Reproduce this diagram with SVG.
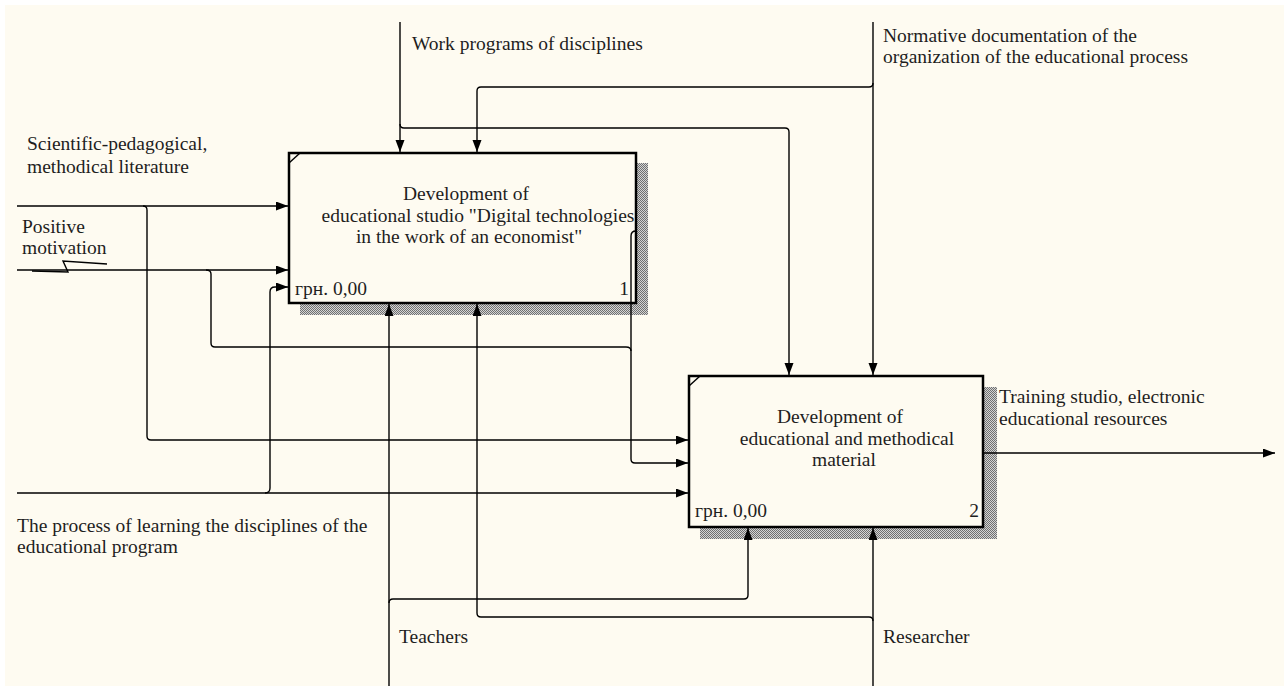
<svg xmlns="http://www.w3.org/2000/svg" width="1284" height="686" viewBox="0 0 1284 686">
  <style>
    .t { font-family: "Liberation Serif", "Times New Roman", serif; font-size: 19.5px; fill: #1e1e1e; }
    .m { text-anchor: middle; }
    .e { text-anchor: end; }
    .box { fill: #fefbf1; stroke: #000; stroke-width: 2.5; }
    .c { fill: none; stroke: #000; stroke-width: 1.4; }
    .ca { fill: none; stroke: #000; stroke-width: 1.4; marker-end: url(#ah); }
    .shadow { fill: url(#hatch); }
  </style>
  <defs>
    <marker id="ah" markerUnits="userSpaceOnUse" markerWidth="13" markerHeight="10" refX="12" refY="4.5" orient="auto">
      <path d="M0,0 L12,4.5 L0,9 z" fill="#000"/>
    </marker>
    <pattern id="hatch" patternUnits="userSpaceOnUse" width="2" height="2">
      <rect width="2" height="2" fill="#d4d4d4"/>
      <rect width="1" height="1" fill="#707070"/>
      <rect x="1" y="1" width="1" height="1" fill="#707070"/>
    </pattern>
  </defs>

  <rect width="1284" height="686" fill="#ffffff"/>
  <rect x="5" y="5" width="1279" height="681" fill="#fefbf1"/>

  <g id="node1">
    <rect class="shadow" x="300" y="163" width="348" height="152"/>
    <rect class="box" x="289" y="153" width="347" height="150"/>
    <path d="M289,163 L300,153" class="c"/>
    <text class="t m" x="466" y="200">Development of</text>
    <text class="t m" x="478" y="222">educational studio "Digital technologies</text>
    <text class="t m" x="469" y="243">in the work of an economist"</text>
    <text class="t" x="295" y="295">грн. 0,00</text>
    <text class="t e" x="629" y="295">1</text>
  </g>

  <g id="node2">
    <rect class="shadow" x="700" y="387" width="297" height="152"/>
    <rect class="box" x="689" y="376" width="294" height="151"/>
    <path d="M689,386 L700,376" class="c"/>
    <text class="t m" x="840" y="423">Development of</text>
    <text class="t m" x="847" y="445">educational and methodical</text>
    <text class="t m" x="844" y="466">material</text>
    <text class="t" x="695" y="517">грн. 0,00</text>
    <text class="t e" x="979" y="517">2</text>
  </g>

  <g id="connectors">
    <!-- Scientific-pedagogical literature -->
    <path class="ca" d="M17,206 H288"/>
    <path class="ca" d="M143,206 Q147,206 147,210 V436 Q147,440 151,440 H688"/>
    <!-- Positive motivation -->
    <path class="ca" d="M17,270 H288"/>
    <path class="c" d="M206,270 Q211,270 211,274 V343 Q211,347 215,347 H626 Q631,347 631,351"/>
    <polyline class="c" points="107,264 63,261 68,272 32,271"/>
    <!-- Output of box 1 to box 2 -->
    <path class="ca" d="M636,231 Q631,231 631,236 V459 Q631,463 635,463 H688"/>
    <!-- Process of learning -->
    <path class="ca" d="M17,493 H688"/>
    <path class="ca" d="M265,493 Q270,493 270,488 V292 Q270,287 275,287 H288"/>
    <!-- Work programs -->
    <path class="ca" d="M400,22 V152"/>
    <path class="ca" d="M400,124 Q400,128 404,128 H785 Q789,128 789,132 V375"/>
    <!-- Normative documentation -->
    <path class="ca" d="M873,22 V375"/>
    <path class="ca" d="M873,83 Q873,87 869,87 H481 Q477,87 477,91 V152"/>
    <!-- Teachers -->
    <path class="ca" d="M389,686 V304"/>
    <path class="ca" d="M389,603 Q389,599 393,599 H744 Q748,599 748,595 V528"/>
    <!-- Researcher -->
    <path class="ca" d="M873,686 V528"/>
    <path class="ca" d="M873,621 Q873,617 869,617 H481 Q477,617 477,613 V304"/>
    <!-- Output -->
    <path class="ca" d="M983,453 H1275"/>
  </g>

  <g id="labels">
    <text class="t" x="412" y="50">Work programs of disciplines</text>
    <text class="t" x="883" y="42">Normative documentation of the</text>
    <text class="t" x="883" y="63">organization of the educational process</text>
    <text class="t" x="27" y="150">Scientific-pedagogical,</text>
    <text class="t" x="27" y="173">methodical literature</text>
    <text class="t" x="22" y="233">Positive</text>
    <text class="t" x="22" y="254">motivation</text>
    <text class="t" x="17" y="532">The process of learning the disciplines of the</text>
    <text class="t" x="17" y="553">educational program</text>
    <text class="t" x="399" y="643">Teachers</text>
    <text class="t" x="883" y="643">Researcher</text>
    <text class="t" x="999" y="403">Training studio, electronic</text>
    <text class="t" x="999" y="425">educational resources</text>
  </g>
</svg>
